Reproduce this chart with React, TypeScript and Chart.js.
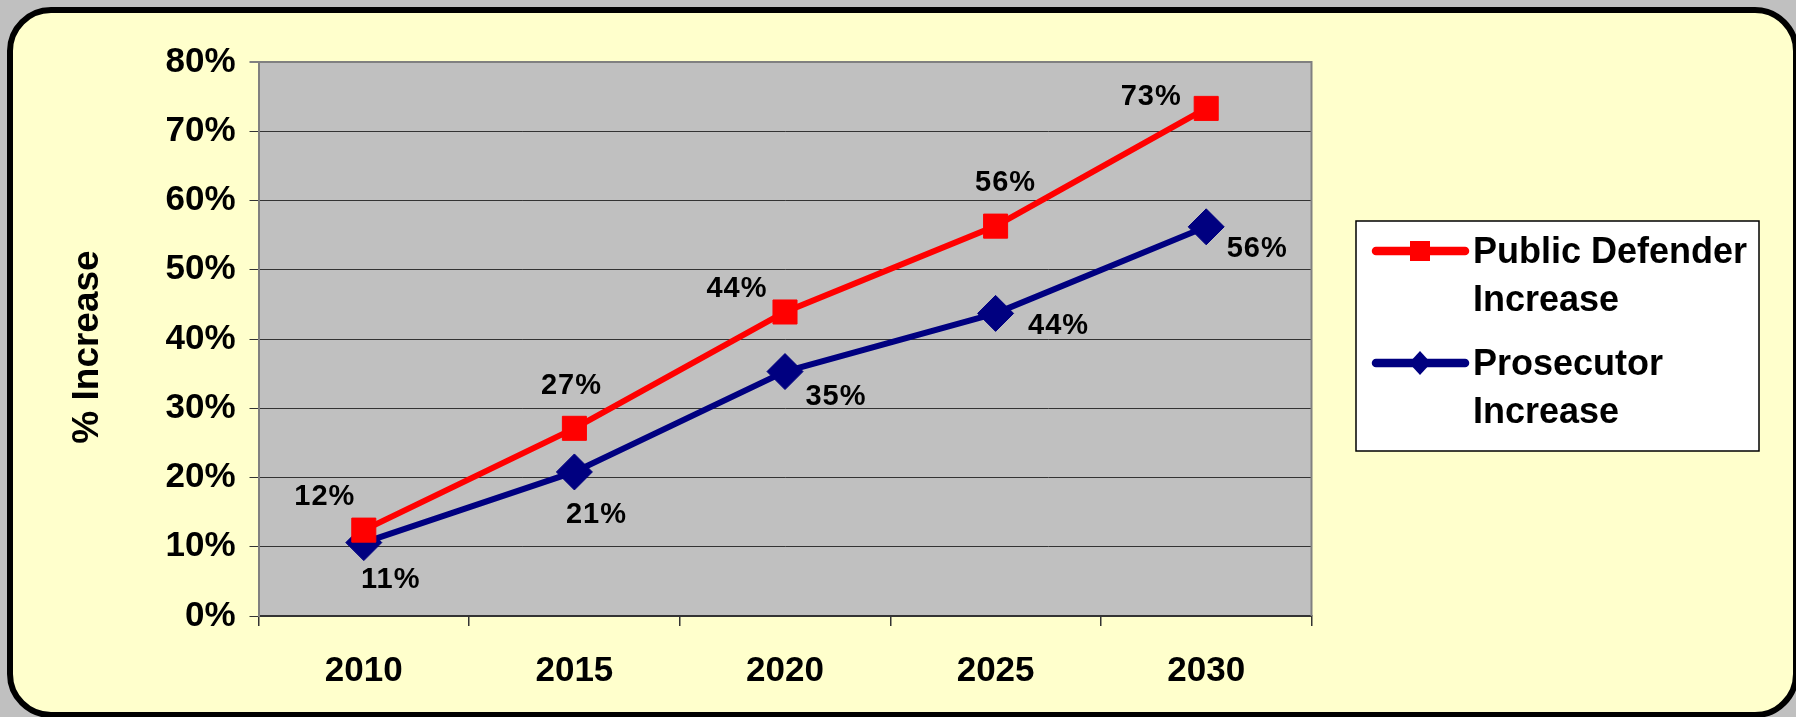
import React, { useEffect, useRef } from "react";
import { Chart, registerables } from "chart.js";

Chart.register(...registerables);

// ---- data ----
const years = ["2010", "2015", "2020", "2025", "2030"];
const publicDefender = [12.4, 27.1, 43.9, 56.3, 73.3];
const prosecutor = [10.6, 20.8, 35.3, 43.7, 56.2];
const seriesNames = ["Public Defender Increase", "Prosecutor Increase"];
const yAxisTitle = "% Increase";
const yMin = 0;
const yMax = 80;
const yStep = 10;

// ---- styling ----
const FONT = '"Liberation Sans", Arial, Helvetica, sans-serif';
const RED = "#ff0000";
const NAVY = "#000080";
// data-label offsets (px) relative to each point
const pdLabelOffsets = [[-39, -33], [-3, -42], [-48, -23], [10, -43], [-55, -11]];
const prLabelOffsets = [[27, 37], [22, 43], [51, 25], [63, 13], [51, 22]];

const decorPlugin = {
  id: "decor",
  beforeDraw(chart: any) {
    const { ctx, chartArea: a } = chart;
    ctx.save();
    ctx.fillStyle = "#c0c0c0";
    ctx.fillRect(a.left, a.top, a.right - a.left, a.bottom - a.top);
    ctx.restore();
  },
  beforeDatasetsDraw(chart: any) {
    const { ctx, chartArea: a } = chart;
    ctx.save();
    ctx.strokeStyle = "#808080";
    ctx.lineWidth = 2;
    ctx.beginPath();
    ctx.moveTo(a.left, a.top);
    ctx.lineTo(a.right, a.top);
    ctx.lineTo(a.right, a.bottom);
    ctx.stroke();
    ctx.restore();
  },
  afterDraw(chart: any) {
    const { ctx, chartArea: a } = chart;
    // y-axis title
    ctx.save();
    ctx.translate(88, (a.top + a.bottom) / 2 + 8);
    ctx.rotate(-Math.PI / 2);
    ctx.font = `bold 37px ${FONT}`;
    ctx.fillStyle = "#000";
    ctx.textAlign = "center";
    ctx.textBaseline = "middle";
    ctx.fillText(yAxisTitle, 0, 0);
    ctx.restore();

    // data labels
    const offsets = [pdLabelOffsets, prLabelOffsets];
    ctx.save();
    ctx.font = `bold 29px ${FONT}`;
    (ctx as any).letterSpacing = "1px";
    ctx.fillStyle = "#000";
    ctx.textAlign = "center";
    ctx.textBaseline = "middle";
    chart.data.datasets.forEach((ds: any, di: number) => {
      const meta = chart.getDatasetMeta(di);
      meta.data.forEach((pt: any, i: number) => {
        const v = ds.data[i];
        const [dx, dy] = offsets[di][i];
        ctx.fillText(Math.round(v) + "%", pt.x + dx, pt.y + dy);
      });
    });
    ctx.restore();

    // legend
    const box = { x: 1356, y: 221, w: 403, h: 230 };
    ctx.save();
    ctx.fillStyle = "#ffffff";
    ctx.fillRect(box.x, box.y, box.w, box.h);
    ctx.strokeStyle = "#000";
    ctx.lineWidth = 1.5;
    ctx.strokeRect(box.x, box.y, box.w, box.h);
    ctx.font = `bold 36px ${FONT}`;
    ctx.textAlign = "left";
    ctx.textBaseline = "alphabetic";
    const textX = 1473;
    const maxW = box.x + box.w - textX - 8;
    let baseline = box.y + 42;
    chart.data.datasets.forEach((ds: any, di: number) => {
      const words = String(ds.label).split(" ");
      const lines: string[] = [];
      let cur = "";
      words.forEach((w) => {
        const test = cur ? cur + " " + w : w;
        if (cur && ctx.measureText(test).width > maxW) {
          lines.push(cur);
          cur = w;
        } else cur = test;
      });
      if (cur) lines.push(cur);
      const my = baseline - 12;
      ctx.strokeStyle = ds.borderColor;
      ctx.lineWidth = 8.5;
      ctx.lineCap = "round";
      ctx.beginPath();
      ctx.moveTo(1376, my);
      ctx.lineTo(1465, my);
      ctx.stroke();
      ctx.fillStyle = ds.borderColor;
      if (ds.pointStyle === "rect") {
        ctx.fillRect(1420 - 10, my - 10, 20, 20);
      } else {
        ctx.beginPath();
        ctx.moveTo(1420 - 11, my);
        ctx.lineTo(1420, my - 12);
        ctx.lineTo(1420 + 11, my);
        ctx.lineTo(1420, my + 12);
        ctx.closePath();
        ctx.fill();
      }
      ctx.fillStyle = "#000";
      lines.forEach((ln, li) => {
        ctx.fillText(ln, textX, baseline + li * 48);
      });
      baseline += (lines.length - 1) * 48 + 64;
    });
    ctx.restore();
  },
};

export default function App() {
  const canvasRef = useRef<HTMLCanvasElement | null>(null);

  useEffect(() => {
    document.body.style.margin = "0";
    document.body.style.background = "#c0c0c0";
    document.body.style.overflow = "hidden";
    document.documentElement.style.overflow = "hidden";
    const canvas = canvasRef.current!;
    const chart = new Chart(canvas, {
      type: "line",
      data: {
        labels: years,
        datasets: [
          {
            label: seriesNames[0],
            data: publicDefender,
            borderColor: RED,
            backgroundColor: RED,
            borderWidth: 6,
            pointStyle: "rect",
            pointRadius: 17,
            pointBorderWidth: 1,
            pointBackgroundColor: RED,
            pointBorderColor: RED,
            tension: 0,
          },
          {
            label: seriesNames[1],
            data: prosecutor,
            borderColor: NAVY,
            backgroundColor: NAVY,
            borderWidth: 6,
            pointStyle: "rectRot",
            pointRadius: 18,
            pointBorderWidth: 1,
            pointBackgroundColor: NAVY,
            pointBorderColor: NAVY,
            tension: 0,
          },
        ],
      },
      options: {
        animation: false,
        responsive: false,
        devicePixelRatio: 1,
        events: [],
        layout: { padding: { left: 0, top: 62, right: 484.5, bottom: 0 } },
        plugins: {
          legend: { display: false },
          tooltip: { enabled: false },
          title: { display: false },
        },
        scales: {
          x: {
            type: "category",
            offset: true,
            afterFit: (s: any) => {
              s.height = 101;
            },
            grid: {
              offset: true,
              drawOnChartArea: false,
              tickLength: 10,
              color: "#333333",
              lineWidth: 1.5,
            },
            border: { color: "#333333", width: 2 },
            ticks: {
              color: "#000",
              padding: 24,
              font: { family: FONT, size: 35, weight: "bold" },
              maxRotation: 0,
            },
          },
          y: {
            min: yMin,
            max: yMax,
            afterFit: (s: any) => {
              s.width = 258.5;
            },
            grid: {
              tickLength: 9,
              color: (c: any) => (c.tick && c.tick.value === yMax ? "#808080" : "#333333"),
              lineWidth: (c: any) => (c.tick && c.tick.value === yMax ? 2 : 1),
            },
            border: { color: "#808080", width: 2 },
            ticks: {
              stepSize: yStep,
              color: "#000",
              padding: 14,
              font: { family: FONT, size: 35, weight: "bold" },
              callback: (v: any) => v + "%",
            },
          },
        },
      },
      plugins: [decorPlugin],
    } as any);
    return () => chart.destroy();
  }, []);

  return (
    <div style={{ position: "relative", width: 1796, height: 717, overflow: "hidden" }}>
      <div
        style={{
          position: "absolute",
          left: 7,
          top: 7,
          width: 1792,
          height: 711,
          boxSizing: "border-box",
          border: "6px solid #000",
          borderRadius: 44,
          background: "#ffffcc",
        }}
      />
      <canvas
        ref={canvasRef}
        width={1796}
        height={717}
        style={{ position: "absolute", left: 0, top: 0, width: 1796, height: 717 }}
      />
    </div>
  );
}
